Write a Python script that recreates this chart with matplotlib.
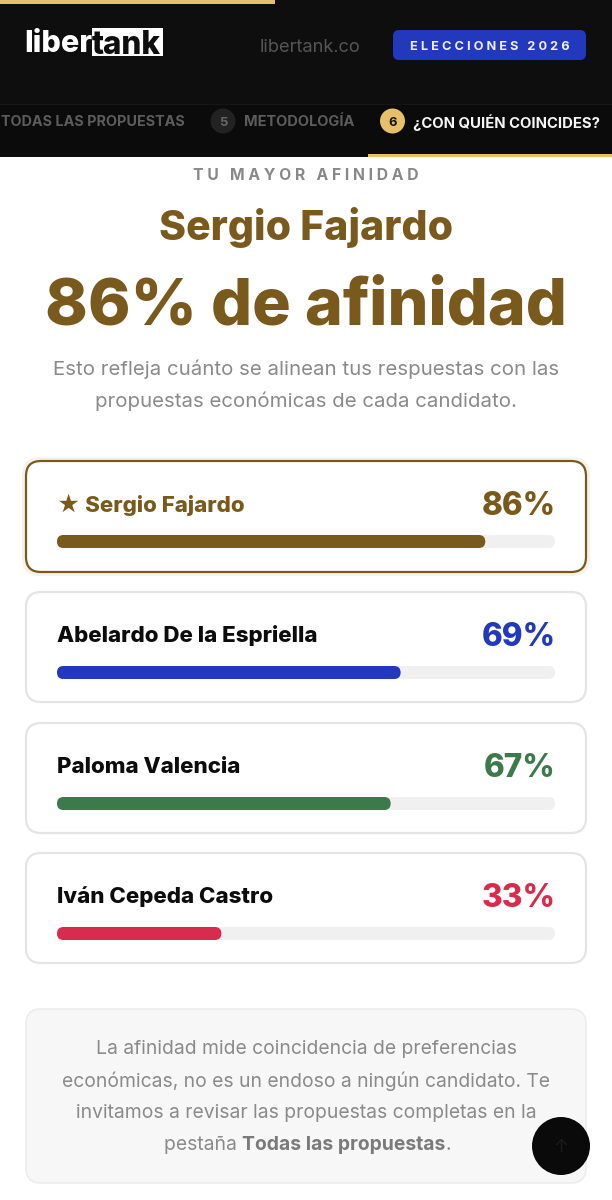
import matplotlib
matplotlib.use("Agg")
import matplotlib.pyplot as plt
from matplotlib.patches import FancyBboxPatch, Circle, Rectangle

plt.rcParams['font.family'] = ['Inter', 'DejaVu Sans']

candidates = ["★ Sergio Fajardo", "Abelardo De la Espriella", "Paloma Valencia", "Iván Cepeda Castro"]
affinity = [86, 69, 67, 33]
bar_colors = ["#7a5a1c", "#2239bd", "#3c7a4b", "#d92b4b"]
name_colors = ["#7a5a1c", "#0c0c0c", "#0c0c0c", "#0c0c0c"]
pct_colors = ["#7a5a1c", "#2239bd", "#3c7a4b", "#d92b4b"]
card_tops = [461, 592, 723, 853]
nav_labels = ["TODAS LAS PROPUESTAS", "METODOLOGÍA", "¿CON QUIÉN COINCIDES?"]
intro_lines = ["Esto refleja cuánto se alinean tus respuestas con las",
               "propuestas económicas de cada candidato."]
note_lines = ["La afinidad mide coincidencia de preferencias",
              "económicas, no es un endoso a ningún candidato. Te",
              "invitamos a revisar las propuestas completas en la"]

HAIR = "\u200a"

fig = plt.figure(figsize=(6.12, 12), dpi=100, facecolor="white")
ax = fig.add_axes([0, 0, 1, 1])
ax.set_xlim(0, 612)
ax.set_ylim(1200, 0)
ax.axis("off")


def px(size):
    # font size in image pixels to points
    return size * 0.72


def rrect(x, y, w, h, r, fc, ec="none", lw=0, z=2):
    p = FancyBboxPatch((x + r, y + r), w - 2 * r, h - 2 * r, boxstyle=f"round,pad={r},rounding_size={r}",
                       fc=fc, ec=ec, lw=lw, zorder=z)
    ax.add_patch(p)
    return p


def label(x, y, s, size, color, weight="normal", ha="left", z=5):
    return ax.text(x, y, s, fontsize=px(size), color=color, fontweight=weight, ha=ha, va="center_baseline", zorder=z)


# header
ax.add_patch(Rectangle((0, 0), 612, 157, fc="#0e0e0e", ec="none", zorder=1))
ax.add_patch(Rectangle((0, 104), 612, 53, fc="#0b0b0b", ec="none", zorder=1))
ax.plot([0, 612], [103.5, 103.5], color="#151515", lw=0.8, zorder=2)
ax.add_patch(Rectangle((0, 0), 275, 4, fc="#e8c069", ec="none", zorder=3))
ax.add_patch(Rectangle((368, 154), 244, 3, fc="#e8c069", ec="none", zorder=3))

# logo
label(24, 41, "liber", 30.5, "white", 800)
ax.add_patch(Rectangle((92, 28), 71, 28, fc="white", ec="none", zorder=3))
label(92, 42, "tank", 31.5, "#0e0e0e", 800)
label(260, 45, "libertank.co", 18.3, "#555555")
rrect(393, 30, 193, 30, 6, "#2239bd")
label(489.5, 45, (HAIR * 3).join("ELECCIONES 2026"), 12.8, "#f0f0f0", "bold", ha="center")

# nav
label(1, 121, nav_labels[0], 14.4, "#5c5c5c", "bold")
ax.add_patch(Circle((223, 121), 12.5, fc="#222222", ec="none", zorder=3))
label(223, 121.5, "5", 13, "#666666", "bold", ha="center")
label(244, 121, nav_labels[1], 14.6, "#5c5c5c", "bold")
ax.add_patch(Circle((392.5, 121), 12.5, fc="#e8c069", ec="none", zorder=3))
label(392.5, 121.5, "6", 13, "#141414", "bold", ha="center")
label(413, 121, nav_labels[2], 14.9, "#f5f5f5", "bold")

# headline
label(305.5, 174, (HAIR * 3).join("TU MAYOR AFINIDAD"), 15.7, "#888888", "bold", ha="center")
label(306, 224, "Sergio Fajardo", 41, "#7a5a1c", 800, ha="center")
label(306, 301, "86% de afinidad", 64.5, "#7a5a1c", 800, ha="center")
label(306, 367, intro_lines[0], 20.4, "#8a8a8a", ha="center")
label(306, 399, intro_lines[1], 20.4, "#8a8a8a", ha="center")

# cards
for i, (name, val) in enumerate(zip(candidates, affinity)):
    top = card_tops[i]
    if i == 0:
        rrect(22, top - 4, 568, 119, 18, "#f8f3ea", z=1)
        rrect(26, top, 560, 111, 15, "white", ec=bar_colors[0], lw=1.6)
    else:
        rrect(26, top, 560, 110, 15, "white", ec="#e4e4e4", lw=1.6)
    label(57, top + 42, name, 22.3, name_colors[i], 800)
    label(555.5, top + 42, f"{val}%", 31.5, pct_colors[i], 800, ha="right")
    # track is 0-100 over 498 px
    rrect(57, top + 74, 498, 13, 6.5, "#f0f0f0", z=3)
    rrect(57, top + 74, 498 * val / 100, 13, 6.5, bar_colors[i], z=4)

# note
rrect(26, 1009, 560, 174, 15, "#f7f7f7", ec="#ececec", lw=1.2)
label(306, 1047, note_lines[0], 19.3, "#8a8a8a", ha="center")
label(306, 1079, note_lines[1], 19.3, "#8a8a8a", ha="center")
label(306, 1111, note_lines[2], 19.3, "#8a8a8a", ha="center")
t1 = label(164, 1143, "pestaña ", 19.3, "#8a8a8a")
t2 = ax.annotate("Todas las propuestas", xy=(1, 0), xycoords=t1, fontsize=px(19.3), color="#7a7a7a",
                 fontweight="bold", va="bottom", zorder=5)
ax.annotate(".", xy=(1, 0), xycoords=t2, fontsize=px(19.3), color="#8a8a8a", va="bottom", zorder=5)

# scroll button
ax.add_patch(Circle((561, 1146), 29, fc="#0a0a0a", ec="none", zorder=6))
ax.text(561, 1147, "↑", fontsize=px(18), color="#1c1c1c", ha="center", va="center", zorder=7)

fig.savefig("out.png", dpi=100)
